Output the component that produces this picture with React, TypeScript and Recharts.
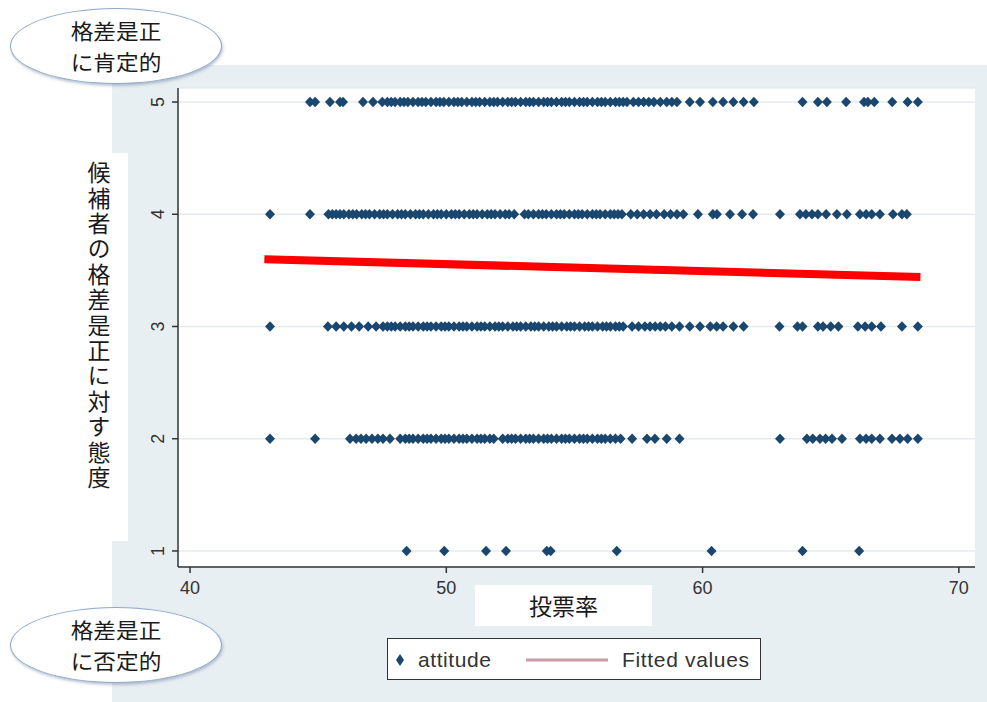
import { ScatterChart, Scatter, XAxis, YAxis, CartesianGrid } from 'recharts'

// attitude (1-5) vs 投票率, one list of turnout values per attitude level
const row5 = [44.68, 44.88, 45.46, 45.85, 45.97, 46.75, 47.14, 47.5, 47.7, 47.85, 48.0, 48.2, 48.35, 48.5, 48.7, 48.9, 49.05, 49.2, 49.4, 49.6, 49.75, 49.9, 50.1, 50.3, 50.45, 50.6, 50.8, 51.0, 51.15, 51.3, 51.5, 51.7, 51.85, 52.0, 52.2, 52.4, 52.55, 52.7, 52.9, 53.1, 53.25, 53.4, 53.6, 53.8, 53.95, 54.1, 54.3, 54.5, 54.65, 54.8, 55.0, 55.2, 55.35, 55.5, 55.7, 55.9, 56.05, 56.2, 56.4, 56.6, 56.75, 56.9, 57.05, 57.3, 57.5, 57.7, 57.9, 58.1, 58.35, 58.6, 58.8, 59.0, 59.5, 59.9, 60.4, 60.8, 61.2, 61.6, 62.0, 63.9, 64.5, 64.85, 65.6, 66.3, 66.45, 66.7, 67.4, 68.0, 68.4]
const row4 = [43.12, 44.68, 45.4, 45.55, 45.7, 45.85, 46.0, 46.2, 46.35, 46.5, 46.7, 46.85, 47.0, 47.2, 47.4, 47.55, 47.7, 47.9, 48.1, 48.25, 48.4, 48.6, 48.8, 48.95, 49.1, 49.3, 49.5, 49.65, 49.8, 50.0, 50.2, 50.35, 50.5, 50.7, 50.9, 51.05, 51.2, 51.4, 51.6, 51.75, 51.9, 52.1, 52.3, 52.45, 52.65, 53.05, 53.2, 53.4, 53.6, 53.75, 53.9, 54.1, 54.3, 54.45, 54.6, 54.8, 55.0, 55.15, 55.3, 55.5, 55.7, 55.85, 56.0, 56.2, 56.4, 56.55, 56.7, 56.85, 57.2, 57.45, 57.7, 57.95, 58.2, 58.5, 58.75, 59.0, 59.25, 59.82, 60.4, 60.56, 61.07, 61.54, 61.97, 63.02, 63.8, 64.03, 64.27, 64.5, 64.82, 65.24, 65.63, 66.14, 66.38, 66.6, 66.92, 67.43, 67.78, 67.97]
const row3 = [43.12, 45.38, 45.7, 46.0, 46.3, 46.6, 46.95, 47.26, 47.53, 47.7, 47.85, 48.0, 48.2, 48.4, 48.55, 48.7, 48.9, 49.1, 49.25, 49.4, 49.6, 49.8, 49.95, 50.1, 50.3, 50.5, 50.65, 50.8, 51.0, 51.2, 51.35, 51.5, 51.7, 51.9, 52.05, 52.2, 52.4, 52.6, 52.75, 52.9, 53.1, 53.3, 53.45, 53.6, 53.8, 54.0, 54.15, 54.3, 54.5, 54.7, 54.85, 55.0, 55.2, 55.4, 55.55, 55.7, 55.9, 56.1, 56.25, 56.4, 56.6, 56.75, 56.9, 57.25, 57.5, 57.75, 57.95, 58.15, 58.35, 58.55, 58.8, 59.1, 59.5, 59.9, 60.3, 60.55, 60.8, 61.2, 61.6, 63.0, 63.7, 63.9, 64.5, 64.7, 65.0, 65.3, 66.06, 66.34, 66.6, 66.96, 67.78, 68.4]
const row2 = [43.12, 44.88, 46.24, 46.48, 46.67, 46.87, 47.1, 47.33, 47.53, 47.8, 48.2, 48.4, 48.55, 48.7, 48.9, 49.1, 49.25, 49.4, 49.6, 49.8, 49.95, 50.1, 50.3, 50.5, 50.65, 50.8, 51.0, 51.2, 51.35, 51.5, 51.7, 51.85, 52.2, 52.4, 52.55, 52.7, 52.9, 53.1, 53.25, 53.4, 53.6, 53.8, 53.95, 54.1, 54.3, 54.5, 54.65, 54.8, 55.0, 55.2, 55.35, 55.5, 55.7, 55.9, 56.05, 56.2, 56.4, 56.6, 56.8, 57.25, 57.83, 58.14, 58.6, 59.1, 63.02, 64.07, 64.3, 64.58, 64.8, 65.05, 65.44, 66.14, 66.38, 66.6, 66.92, 67.39, 67.7, 68.0, 68.4]
const row1 = [48.45, 49.92, 51.55, 52.33, 53.92, 54.07, 56.65, 60.35, 63.9, 66.11]

// fitted regression line end points
const fitX = [42.9, 68.5]
const fitY = [3.6, 3.44]

const xTicks = [40, 50, 60, 70]
const yTicks = [1, 2, 3, 4, 5]
const yLabel = '候補者の格差是正に対す態度'

const rows: [number, number[]][] = [
  [5, row5],
  [4, row4],
  [3, row3],
  [2, row2],
  [1, row1],
]
const points = rows.flatMap(([y, xs]) => xs.map((x) => ({ x, y })))
const fitted = fitX.map((x, i) => ({ x, y: fitY[i] }))

const NAVY = '#1a476f'
const BG = '#e8eff2'
const CJK = '"Noto Sans CJK JP", sans-serif'
const SANS = '"Liberation Sans", Arial, sans-serif'

const Diamond = (props: any) => {
  const { cx, cy } = props
  if (cx == null || cy == null) return null
  return (
    <polygon
      points={`${cx},${cy - 5.2} ${cx + 5},${cy} ${cx},${cy + 5.2} ${cx - 5},${cy}`}
      fill={NAVY}
    />
  )
}

const YTick = (props: any) => {
  const { x, y, payload } = props
  return (
    <g transform={`translate(${x - 6},${y})`}>
      <text
        transform="rotate(-90)"
        textAnchor="middle"
        fill="#333"
        fontSize={18}
        fontFamily={SANS}
      >
        {payload.value}
      </text>
    </g>
  )
}

const Bubble = ({ top, lines }: { top: number; lines: string[] }) => (
  <div
    style={{
      position: 'absolute',
      left: 10,
      top,
      width: 210,
      height: 74,
      borderRadius: '50%',
      background: '#fff',
      border: '1.5px solid #8ea8cc',
      boxShadow: '1px 2px 3px rgba(120,140,170,0.5)',
      display: 'flex',
      flexDirection: 'column',
      alignItems: 'center',
      justifyContent: 'center',
      fontFamily: CJK,
      fontSize: 21,
      lineHeight: '31px',
      color: '#1a1a1a',
    }}
  >
    {lines.map((l) => (
      <div key={l} style={{ transform: 'scale(1.08, 1)' }}>{l}</div>
    ))}
  </div>
)

export default function App() {
  return (
    <div style={{ position: 'absolute', left: 0, top: 0, width: 987, height: 702, background: '#fff', overflow: 'hidden' }}>
      <div style={{ position: 'absolute', left: 112, top: 65, width: 875, height: 637, background: BG }} />

      {/* white boxes behind the axis titles */}
      <div style={{ position: 'absolute', left: 60, top: 153, width: 68, height: 388, background: '#fff' }} />
      <div style={{ position: 'absolute', left: 475, top: 585, width: 177, height: 41, background: '#fff' }} />

      <div
        style={{
          position: 'absolute',
          left: 84,
          top: 161,
          writingMode: 'vertical-rl',
          textOrientation: 'upright',
          fontFamily: CJK,
          fontSize: 23,
          letterSpacing: '2.4px',
          lineHeight: '30px',
          color: '#1a1a1a',
        }}
      >
        {yLabel}
      </div>
      <div
        style={{
          position: 'absolute',
          left: 475,
          top: 585,
          width: 177,
          height: 41,
          lineHeight: '41px',
          textAlign: 'center',
          fontFamily: CJK,
          fontSize: 23,
          color: '#1a1a1a',
        }}
      >
        投票率
      </div>

      <div style={{ position: 'absolute', left: 0, top: 0 }}>
        <ScatterChart width={987} height={702} margin={{ top: 88, right: 12, bottom: 105, left: 118 }}>
          <CartesianGrid vertical={false} stroke="#e4ebee" strokeWidth={1.5} fill="#fff" />
          <XAxis
            type="number"
            dataKey="x"
            domain={[39.53, 70.63]}
            ticks={xTicks}
            allowDataOverflow
            height={30}
            tickSize={6}
            tickMargin={8}
            axisLine={{ stroke: '#333', strokeWidth: 1.5 }}
            tickLine={{ stroke: '#333', strokeWidth: 1.5 }}
            tick={{ fill: '#333', fontSize: 18, fontFamily: SANS }}
          />
          <YAxis
            type="number"
            dataKey="y"
            domain={[0.857, 5.125]}
            ticks={yTicks}
            allowDataOverflow
            width={60}
            tickSize={6}
            axisLine={{ stroke: '#333', strokeWidth: 1.5 }}
            tickLine={{ stroke: '#333', strokeWidth: 1.5 }}
            tick={<YTick />}
          />
          <Scatter name="attitude" data={points} shape={<Diamond />} isAnimationActive={false} />
          <Scatter
            name="Fitted values"
            data={fitted}
            line={{ stroke: '#ff0000', strokeWidth: 8 }}
            shape={() => <g />}
            isAnimationActive={false}
          />
        </ScatterChart>
      </div>

      <Bubble top={8} lines={['格差是正', 'に肯定的']} />
      <Bubble top={607} lines={['格差是正', 'に否定的']} />

      {/* legend */}
      <div
        style={{
          position: 'absolute',
          left: 387,
          top: 638,
          width: 372,
          height: 40,
          border: '1.5px solid #333',
          background: '#fff',
        }}
      >
        <svg width={372} height={40} style={{ position: 'absolute', left: 0, top: 0 }}>
          <polygon points="12,15 16,21 12,27 8,21" fill={NAVY} />
          <line x1={138} y1={21} x2={220} y2={21} stroke="#c99ca4" strokeWidth={3} />
          <text x={30} y={28} fontSize={21} fontFamily={SANS} fill="#333" textLength={73}>attitude</text>
          <text x={234} y={28} fontSize={21} fontFamily={SANS} fill="#333" textLength={127}>Fitted values</text>
        </svg>
      </div>
    </div>
  )
}
